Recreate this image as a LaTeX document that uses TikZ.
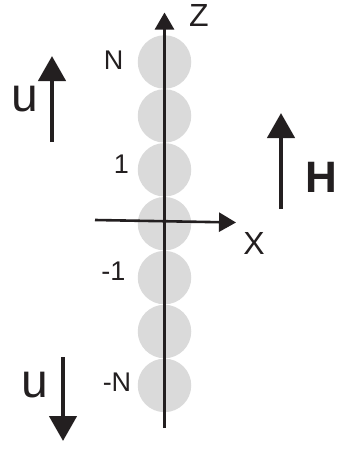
\documentclass[tikz,border=0pt]{standalone}
\usepackage{fontspec}
\setmainfont{Liberation Sans}
\usepackage{tikz}
\usetikzlibrary{arrows.meta,positioning}
\definecolor{ChainInk}{HTML}{231F20}
\definecolor{BeadGray}{HTML}{DADADA}
\tikzset{
  chainbead/.style={circle, fill=BeadGray, minimum size=53.5pt, inner sep=0pt},
  chainaxis/.style={draw=ChainInk, line width=2.6pt,
    -{Triangle[width=19pt,length=17pt]}},
  fieldarrow/.style={draw=ChainInk, line width=4.5pt,
    -{Triangle[width=27pt,length=25pt]}},
  siteno/.style={inner sep=0pt, text=ChainInk, font=\fontsize{27}{27}\selectfont},
  axname/.style={inner sep=0pt, text=ChainInk, font=\fontsize{32}{32}\selectfont},
  velname/.style={inner sep=0pt, text=ChainInk, font=\fontsize{48}{48}\selectfont}
}
\begin{document}
\begin{tikzpicture}[x=1pt, y=-1pt]
  \useasboundingbox (0,0) rectangle (338,450);

  % chain of beads
  \node[chainbead] (bN) at (164.5,62) {};
  \node[chainbead, below=0pt of bN] (b2) {};
  \node[chainbead, below=0pt of b2] (b1) {};
  \node[chainbead, below=0pt of b1] (b0) {};
  \node[chainbead, below=0pt of b0] (bm1) {};
  \node[chainbead, below=0pt of bm1] (bm2) {};
  \node[chainbead, below=0pt of bm2] (bmN) {};

  \node[siteno] (lN) at (113.5,60) {N};
  \node[siteno] (l1) at (121.5,164) {1};
  \node[siteno] (lm1) at (113.5,271) {-1};
  \node[siteno] (lmN) at (117,382) {-N};

  % axes
  \coordinate (zfoot) at (164.5,428);
  \coordinate (ztip) at (164.5,12.5);
  \coordinate (xfoot) at (95,220);
  \coordinate (xtip) at (236,222.5);
  \draw[chainaxis] (zfoot) -- (ztip);
  \draw[chainaxis] (xfoot) -- (xtip);
  \node[axname] (zname) at (199,15.5) {Z};
  \node[axname] (xname) at (254,243.5) {X};

  % velocities and field
  \coordinate (upfoot) at (52,142);
  \coordinate (uptip) at (52,56);
  \coordinate (dnfoot) at (63,357);
  \coordinate (dntip) at (63,441);
  \coordinate (hfoot) at (281,209);
  \coordinate (htip) at (281,113);
  \draw[fieldarrow] (upfoot) -- (uptip);
  \draw[fieldarrow] (dnfoot) -- (dntip);
  \draw[fieldarrow] (hfoot) -- (htip);
  \node[velname] (uup) at (24.5,99.5) {u};
  \node[velname] (udn) at (34.5,385.5) {u};
  \node[axname, font=\fontsize{44}{44}\selectfont\bfseries] (hname) at (321.5,177) {H};
\end{tikzpicture}
\end{document}
